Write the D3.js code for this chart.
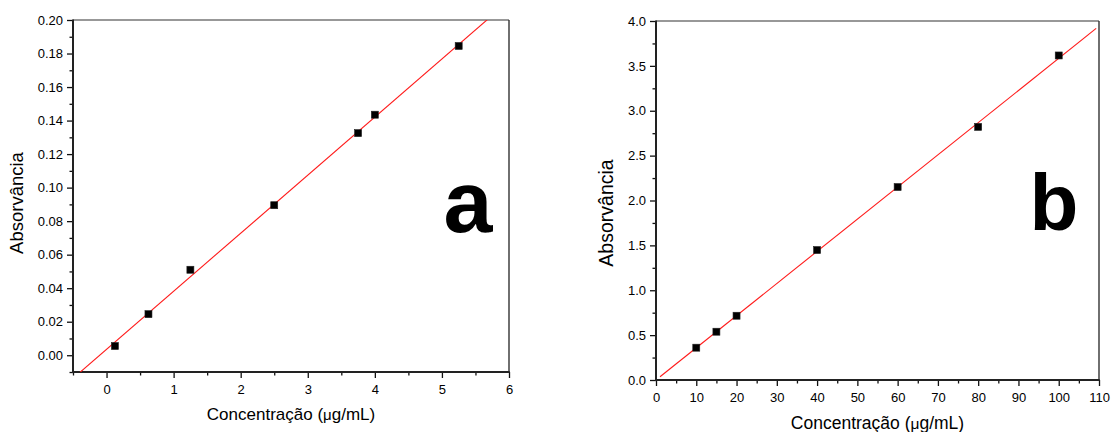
<!DOCTYPE html>
<html>
<head>
<meta charset="utf-8">
<script src="https://cdn.jsdelivr.net/npm/d3@7"></script>
<style>
  html, body { margin: 0; padding: 0; background: #fff; }
  svg { display: block; }
  text { font-family: "Liberation Sans", Arial, sans-serif; fill: #000; }
</style>
</head>
<body>
<svg id="chart" width="1113" height="432"></svg>
<script>
// Calibration curve a
const concA = [0.125, 0.625, 1.25, 2.5, 3.75, 4.0, 5.25];
const absA  = [0.0055, 0.0245, 0.051, 0.0895, 0.1325, 0.1435, 0.1845];
const xTicksA = [0, 1, 2, 3, 4, 5, 6];
const yTicksA = [0.00, 0.02, 0.04, 0.06, 0.08, 0.10, 0.12, 0.14, 0.16, 0.18, 0.20];

// Calibration curve b
const concB = [10, 15, 20, 40, 60, 80, 100];
const absB  = [0.36, 0.538, 0.716, 1.448, 2.15, 2.82, 3.616];
const xTicksB = [0, 10, 20, 30, 40, 50, 60, 70, 80, 90, 100, 110];
const yTicksB = [0.0, 0.5, 1.0, 1.5, 2.0, 2.5, 3.0, 3.5, 4.0];

const xTitle = "Concentração (";
const yTitle = "Absorvância";

const svg = d3.select("#chart");

// least-squares straight line through the points
function linearFit(xs, ys) {
  const n = xs.length;
  const mx = d3.mean(xs), my = d3.mean(ys);
  let sxy = 0, sxx = 0;
  for (let i = 0; i < n; i++) {
    sxy += (xs[i] - mx) * (ys[i] - my);
    sxx += (xs[i] - mx) * (xs[i] - mx);
  }
  const slope = sxy / sxx;
  return { slope, intercept: my - slope * mx };
}

function panel(cfg) {
  const { id, box, xDomain, yDomain, xTicks, yTicks, xMinor, yMinor,
          xFmt, yFmt, xs, ys, fitSpan, letter, letterPos, letterSize,
          yTitlePos, yTitleSize, xTitleY, xTitleSize } = cfg;

  const x = d3.scaleLinear().domain(xDomain).range([box.left, box.right]);
  const y = d3.scaleLinear().domain(yDomain).range([box.bottom, box.top]);

  const g = svg.append("g");

  svg.append("clipPath").attr("id", "clip-" + id)
    .append("rect")
    .attr("x", box.left).attr("y", box.top)
    .attr("width", box.right - box.left).attr("height", box.bottom - box.top);

  // minor ticks
  const xMinorAxis = d3.axisBottom(x).tickValues(xMinor).tickSize(3.5).tickFormat("");
  const yMinorAxis = d3.axisLeft(y).tickValues(yMinor).tickSize(3.5).tickFormat("");
  g.append("g").attr("transform", `translate(0,${box.bottom})`).call(xMinorAxis)
    .call(s => s.select(".domain").remove());
  g.append("g").attr("transform", `translate(${box.left},0)`).call(yMinorAxis)
    .call(s => s.select(".domain").remove());

  // major ticks with labels
  const xAxis = d3.axisBottom(x).tickValues(xTicks).tickSize(6).tickPadding(7).tickFormat(d3.format(xFmt));
  const yAxis = d3.axisLeft(y).tickValues(yTicks).tickSize(6).tickPadding(4).tickFormat(d3.format(yFmt));
  const gx = g.append("g").attr("transform", `translate(0,${box.bottom})`).call(xAxis);
  const gy = g.append("g").attr("transform", `translate(${box.left},0)`).call(yAxis);
  [gx, gy].forEach(a => {
    a.select(".domain").remove();
    a.selectAll("text").style("font-family", "'Liberation Sans', Arial, sans-serif")
      .style("font-size", "13px").attr("fill", "#000");
  });
  g.selectAll(".tick line").attr("stroke", "#111").attr("stroke-width", 1.3);

  // frame: axes heavier than top/right borders
  g.append("line").attr("x1", box.left).attr("x2", box.right)
    .attr("y1", box.top).attr("y2", box.top)
    .attr("stroke", "#333").attr("stroke-width", 1.2);
  g.append("line").attr("x1", box.right).attr("x2", box.right)
    .attr("y1", box.top).attr("y2", box.bottom)
    .attr("stroke", "#333").attr("stroke-width", 1.4);
  g.append("line").attr("x1", box.left).attr("x2", box.left)
    .attr("y1", box.top - 0.6).attr("y2", box.bottom + 1)
    .attr("stroke", "#222").attr("stroke-width", 2);
  g.append("line").attr("x1", box.left - 1).attr("x2", box.right + 0.7)
    .attr("y1", box.bottom).attr("y2", box.bottom)
    .attr("stroke", "#222").attr("stroke-width", 2);

  // fitted line
  const fit = linearFit(xs, ys);
  g.append("line")
    .attr("clip-path", `url(#clip-${id})`)
    .attr("x1", x(fitSpan[0])).attr("y1", y(fit.intercept + fit.slope * fitSpan[0]))
    .attr("x2", x(fitSpan[1])).attr("y2", y(fit.intercept + fit.slope * fitSpan[1]))
    .attr("stroke", "#ff1a1a").attr("stroke-width", 1.1);

  // measured points
  const m = 7;
  g.selectAll("rect.pt").data(xs.map((v, i) => [v, ys[i]])).join("rect")
    .attr("class", "pt")
    .attr("x", d => x(d[0]) - m / 2).attr("y", d => y(d[1]) - m / 2)
    .attr("width", m).attr("height", m)
    .attr("fill", "#000").attr("stroke", "#222").attr("stroke-width", 0.6);

  // axis titles
  const xt = g.append("text")
    .attr("x", (box.left + box.right) / 2).attr("y", xTitleY)
    .attr("text-anchor", "middle").style("font-size", xTitleSize + "px");
  xt.append("tspan").text(xTitle);
  xt.append("tspan").style("font-size", (xTitleSize - 2) + "px").text("\u03bc");
  xt.append("tspan").text("g/mL)");

  g.append("text")
    .attr("transform", `translate(${yTitlePos[0]},${yTitlePos[1]}) rotate(-90)`)
    .attr("text-anchor", "middle").style("font-size", yTitleSize + "px")
    .text(yTitle);

  // panel letter
  g.append("text")
    .attr("x", letterPos[0]).attr("y", letterPos[1])
    .attr("text-anchor", "middle")
    .style("font-size", letterSize + "px").style("font-weight", "bold")
    .text(letter);
}

panel({
  id: "a",
  box: { left: 73, right: 509, top: 20, bottom: 372 },
  xDomain: [-0.5, 6], yDomain: [-0.01, 0.20],
  xTicks: xTicksA, yTicks: yTicksA,
  xMinor: d3.range(-0.5, 6, 1), yMinor: d3.range(-0.01, 0.2, 0.02),
  xFmt: "d", yFmt: ".2f",
  xs: concA, ys: absA,
  fitSpan: [-0.5, 6],
  letter: "a", letterPos: [468, 232], letterSize: 88,
  yTitlePos: [23, 203], yTitleSize: 18.5, xTitleY: 420, xTitleSize: 17
});

panel({
  id: "b",
  box: { left: 656, right: 1099, top: 21, bottom: 380 },
  xDomain: [0, 110], yDomain: [0, 4],
  xTicks: xTicksB, yTicks: yTicksB,
  xMinor: d3.range(5, 110, 10), yMinor: d3.range(0.25, 4, 0.5),
  xFmt: "d", yFmt: ".1f",
  xs: concB, ys: absB,
  fitSpan: [1, 109.3],
  letter: "b", letterPos: [1054, 230], letterSize: 80,
  yTitlePos: [613, 213], yTitleSize: 19.5, xTitleY: 429, xTitleSize: 17.5
});
</script>
</body>
</html>
